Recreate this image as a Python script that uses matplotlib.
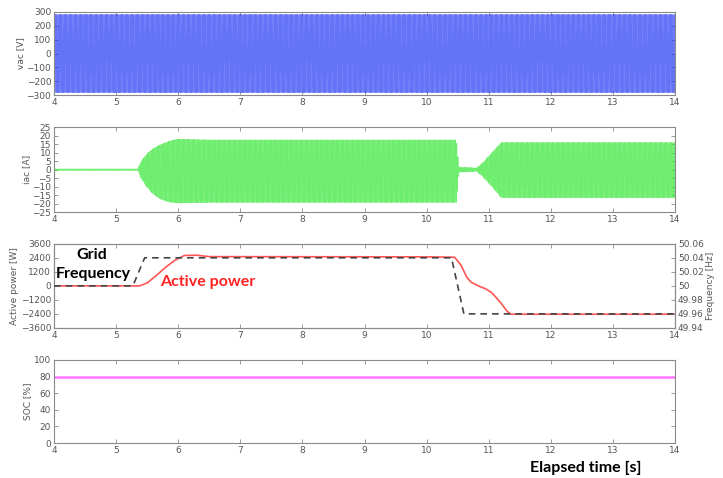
import numpy as np
import matplotlib
matplotlib.use("Agg")
import matplotlib.pyplot as plt

# ---- values ----
# vac envelope (V)
vac_t = [4.0, 14.0]
vac_amp = [282, 282]

# iac envelope (A): upper and lower edge of the current waveform
iac_t = [4.0, 5.35, 5.4, 5.5, 5.6, 5.7, 5.8, 5.9, 6.0, 6.5, 10.48, 10.52, 10.7, 10.8,
         10.9, 11.0, 11.1, 11.2, 14.0]
iac_hi = [0.5, 0.5, 5, 9.5, 12.5, 14.5, 16, 17.3, 18, 17.5, 17.5, 1.5, 1.3, 1.0,
          4, 8, 12, 16, 16]
iac_lo = [-0.5, -0.5, -5, -10.5, -14.5, -17, -18.5, -19.3, -19.6, -19.3, -19.3, -1.5, -1.3, -1.0,
          -4, -8, -12, -16.5, -16.5]

# active power (W)
power_t = [4.0, 5.38, 5.5, 5.65, 5.8, 5.95, 6.1, 6.3, 6.5, 10.0, 10.45, 10.55, 10.65,
           10.72, 10.85, 10.95, 11.05, 11.12, 11.2, 11.25, 11.3, 11.36, 14.0]
power = [0, 0, 250, 900, 1600, 2200, 2600, 2620, 2500, 2480, 2450, 1800, 700,
         300, -50, -250, -600, -1000, -1500, -1850, -2200, -2430, -2430]

# grid frequency (Hz)
freq_t = [4.0, 5.27, 5.46, 10.4, 10.6, 14.0]
freq = [50.0, 50.0, 50.04, 50.04, 49.96, 49.96]

# state of charge (%)
soc_t = [4.0, 14.0]
soc = [80, 80]

GRID_HZ = 50.0
TICK_COLOR = "#555555"
SPINE_COLOR = "#8a8a8a"


def matlab_style(ax, right=True):
    for s in ax.spines.values():
        s.set_color(SPINE_COLOR)
        s.set_linewidth(0.8)
    ax.tick_params(direction="in", length=3, width=0.6, color=SPINE_COLOR,
                   labelsize=6.5, labelcolor=TICK_COLOR, top=True, right=right, pad=2)
    ax.set_xlim(4, 14)
    ax.set_xticks(range(4, 15))


fig = plt.figure(figsize=(7.23, 4.78), dpi=100)
left, width = 0.0747, 0.859
ax1 = fig.add_axes([left, 0.801, width, 0.174])
ax2 = fig.add_axes([left, 0.556, width, 0.178])
ax3 = fig.add_axes([left, 0.314, width, 0.176])
ax4 = fig.add_axes([left, 0.073, width, 0.174])

t = np.linspace(4, 14, 200001)
carrier = np.sin(2 * np.pi * GRID_HZ * t)

# panel 1: grid voltage
vac = np.interp(t, vac_t, vac_amp) * carrier
ax1.plot(t, vac, color="#2438f5", lw=0.5, alpha=0.7)
ax1.set_ylim(-300, 300)
ax1.set_yticks(range(-300, 301, 100))
ax1.set_ylabel("vac [V]", fontsize=6.5, color=TICK_COLOR, labelpad=1)
matlab_style(ax1)

# panel 2: inverter current
hi = np.interp(t, iac_t, iac_hi)
lo = np.interp(t, iac_t, iac_lo)
iac = (hi + lo) / 2 + (hi - lo) / 2 * carrier
ax2.plot(t, iac, color="#3ee83e", lw=0.5, alpha=0.75)
ax2.set_ylim(-25, 25)
ax2.set_yticks(range(-25, 26, 5))
ax2.set_ylabel("iac [A]", fontsize=6.5, color=TICK_COLOR, labelpad=1)
matlab_style(ax2)

# panel 3: active power + grid frequency
ax3b = ax3.twinx()
ax3.plot(power_t, power, color="#ff5555", lw=1.2, zorder=2)
ax3b.plot(freq_t, freq, color="#444444", lw=1.2, ls=(0, (4, 3)), zorder=3)
ax3.set_ylim(-3600, 3600)
ax3.set_yticks(range(-3600, 3601, 1200))
ax3b.set_ylim(49.94, 50.06)
ax3b.set_yticks([49.94, 49.96, 49.98, 50.0, 50.02, 50.04, 50.06])
ax3b.set_yticklabels(["49.94", "49.96", "49.98", "50", "50.02", "50.04", "50.06"])
ax3.set_ylabel("Active power [W]", fontsize=6.5, color=TICK_COLOR, labelpad=1)
ax3b.set_ylabel("Frequency [Hz]", fontsize=6.5, color=TICK_COLOR, labelpad=2)
matlab_style(ax3, right=False)
matlab_style(ax3b, right=True)
ax3b.tick_params(left=False)

ax3.text(4.61, 2660, "Grid", fontsize=11.5, fontweight="bold", family="Lato",
         ha="center", va="center", color="black")
ax3.text(4.63, 1030, "Frequency", fontsize=11.5, fontweight="bold", family="Lato",
         ha="center", va="center", color="black")
ax3.text(6.48, 350, "Active power", fontsize=11.5, fontweight="bold", family="Lato",
         ha="center", va="center", color="#ff2222")

# panel 4: state of charge
ax4.plot(soc_t, soc, color="#ff77ff", lw=1.8)
ax4.set_ylim(0, 100)
ax4.set_yticks(range(0, 101, 20))
ax4.set_ylabel("SOC [%]", fontsize=6.5, color=TICK_COLOR, labelpad=1)
matlab_style(ax4)

fig.text(0.810, 0.021, "Elapsed time [s]", fontsize=11.5, fontweight="bold",
         family="Lato", ha="center", va="center", color="black")

fig.savefig("out.png", dpi=100)
